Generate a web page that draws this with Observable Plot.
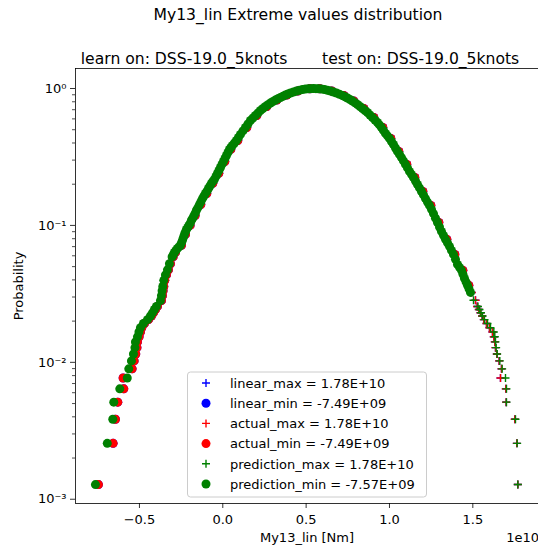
<!DOCTYPE html>
<html><head><meta charset="utf-8">
<script src="https://cdn.jsdelivr.net/npm/d3@7"></script>
<script src="https://cdn.jsdelivr.net/npm/@observablehq/plot@0.6"></script>
<style>
html,body{margin:0;padding:0;background:#fff;overflow:hidden;}
#wrap{position:relative;width:540px;height:548px;overflow:hidden;font-family:"DejaVu Sans",sans-serif;}
#wrap svg{max-width:none;}
#over{position:absolute;left:0;top:0;pointer-events:none;}
</style></head><body><div id="wrap"></div>
<script>
// ---- data (x in units of 1e10 Nm, p = probability) ----
const predictionMin = [
[-0.764,0.00128],[-0.693,0.00256],[-0.660,0.00384],[-0.654,0.00512],[-0.618,0.0064],
[-0.573,0.00768],[-0.564,0.00896],[-0.548,0.01024],[-0.536,0.0115],[-0.527,0.0128],
[-0.524,0.0141],[-0.512,0.01536],[-0.503,0.01664],[-0.494,0.0179],[-0.476,0.0192],
[-0.452,0.0205],[-0.434,0.0218],[-0.422,0.0230],[-0.410,0.0243],[-0.398,0.0256],
[-0.374,0.0282],[-0.368,0.0307],[-0.364,0.0333],[-0.360,0.0358],[-0.354,0.0397],
[-0.344,0.0435],[-0.332,0.0474],[-0.320,0.0525],[-0.304,0.0589],
[-0.290,0.0635],[-0.272,0.0679],[-0.254,0.0715],[-0.242,0.0778],[-0.230,0.0860],
[-0.218,0.0935],[-0.203,0.100],[-0.188,0.109],[-0.173,0.118],[-0.158,0.129],
[-0.140,0.142],[-0.122,0.157],[-0.104,0.171],[-0.086,0.186],[-0.068,0.203],
[-0.050,0.217],[-0.032,0.240],[-0.014,0.265],[0.004,0.293],[0.022,0.324],
[0.040,0.359],[0.058,0.384],[0.082,0.417],[0.106,0.462],[0.136,0.519],
[0.166,0.584],[0.196,0.635],[0.226,0.691],[0.256,0.739],[0.286,0.783],
[0.316,0.824],[0.346,0.860],[0.376,0.897],[0.406,0.927],[0.442,0.959],
[0.478,0.984],[0.514,0.995],[0.544,1.0],[0.574,0.995],[0.610,0.984],
[0.646,0.959],[0.682,0.927],[0.718,0.889],[0.748,0.852],[0.778,0.811],
[0.808,0.764],[0.838,0.715],[0.868,0.668],[0.898,0.614],[0.928,0.565],
[0.952,0.519],[0.976,0.470],[1.000,0.432],[1.024,0.390],[1.048,0.347],
[1.072,0.313],[1.096,0.279],[1.120,0.248],[1.144,0.224],[1.168,0.199],
[1.192,0.177],[1.216,0.157],[1.240,0.140],[1.264,0.122],[1.288,0.105],
[1.312,0.0904],[1.336,0.0791],[1.360,0.0703],[1.384,0.0614],[1.408,0.0519],
[1.432,0.0470],[1.450,0.0410],[1.468,0.0365],[1.486,0.0324]
];
// further readings along the dense central band of prediction_min
const predictionMinBand = [
[-0.297,0.0612],[-0.281,0.0657],[-0.263,0.0697],[-0.248,0.0746],[-0.236,0.0818],
[-0.224,0.0897],[-0.210,0.0967],[-0.195,0.104],[-0.180,0.113],[-0.165,0.123],
[-0.149,0.135],[-0.131,0.149],[-0.113,0.164],[-0.095,0.178],[-0.077,0.194],
[-0.059,0.210],[-0.041,0.228],[-0.023,0.252],[-0.005,0.279],[0.013,0.308],
[0.031,0.341],[0.049,0.371],[0.070,0.400],[0.094,0.439],[0.121,0.490],
[0.151,0.551],[0.181,0.609],[0.211,0.662],[0.241,0.715],[0.271,0.761],
[0.301,0.803],[0.331,0.842],[0.361,0.878],[0.391,0.912],[0.424,0.943],
[0.460,0.972],[0.496,0.990],[0.529,0.998],[0.559,0.998],[0.592,0.990],
[0.628,0.972],[0.664,0.943],[0.700,0.908],[0.733,0.870],[0.763,0.831],
[0.793,0.787],[0.823,0.739],[0.853,0.691],[0.883,0.640],[0.913,0.589],
[0.940,0.542],[0.964,0.494],[0.988,0.451],[1.012,0.410],[1.036,0.368],
[1.060,0.330],[1.084,0.296],[1.108,0.263],[1.132,0.236],[1.156,0.211],
[1.180,0.188],[1.204,0.167],[1.228,0.148],[1.252,0.131],[1.276,0.113],
[1.300,0.0974],[1.324,0.0846],[1.348,0.0746],[1.372,0.0657],[1.396,0.0565],
[1.420,0.0494],[1.441,0.0439],[1.459,0.0387],[1.477,0.0344]
];
const predictionMax = [
[0.478,0.984],[0.514,0.995],[0.544,1.0],[0.574,0.995],[0.610,0.984],
[0.646,0.959],[0.682,0.927],[0.718,0.889],[0.748,0.852],[0.778,0.811],
[0.808,0.764],[0.838,0.715],[0.868,0.668],[0.898,0.614],[0.928,0.565],
[0.952,0.519],[0.976,0.470],[1.000,0.432],[1.024,0.390],[1.048,0.347],
[1.072,0.313],[1.096,0.279],[1.120,0.248],[1.144,0.224],[1.168,0.199],
[1.192,0.177],[1.216,0.157],[1.240,0.140],[1.264,0.122],[1.288,0.105],
[1.312,0.0904],[1.336,0.0791],[1.360,0.0703],[1.384,0.0614],[1.408,0.0519],
[1.432,0.0470],[1.450,0.0410],[1.468,0.0365],[1.486,0.0324],[1.504,0.0284],
[1.531,0.0256],[1.540,0.0243],[1.549,0.0230],[1.558,0.0218],[1.570,0.0205],
[1.588,0.0192],[1.606,0.0179],[1.626,0.01664],[1.632,0.01536],[1.636,0.0141],
[1.640,0.0128],[1.646,0.0115],[1.662,0.01024],[1.676,0.00896],[1.696,0.00768],
[1.702,0.0064],[1.702,0.00512],[1.756,0.00384],[1.766,0.00256],[1.770,0.00128]
];
const actualMin = [
[-0.746,0.00128],[-0.658,0.00256],[-0.644,0.00384],[-0.630,0.00512],[-0.594,0.0064],
[-0.598,0.00768],[-0.544,0.00896],[-0.532,0.01024],[-0.522,0.0115],[-0.515,0.0128],
[-0.512,0.0141],[-0.502,0.01536],[-0.494,0.01664],[-0.486,0.0179],[-0.470,0.0192],
[-0.446,0.0205],[-0.428,0.0218],[-0.416,0.0230],[-0.404,0.0243],[-0.392,0.0256],
[-0.368,0.0282],[-0.362,0.0307],[-0.358,0.0333],[-0.354,0.0358],[-0.348,0.0397],
[-0.338,0.0435],[-0.326,0.0474],[-0.314,0.0525],[-0.298,0.0589],
[-0.284,0.0635],[-0.248,0.0715],[-0.224,0.0860],[-0.196,0.100],[-0.166,0.118],
[-0.132,0.142],[-0.096,0.171],[-0.060,0.203],[-0.024,0.240],[0.012,0.293],
[0.048,0.359],[0.090,0.417],[0.144,0.519],[0.204,0.635],[0.264,0.739],
[0.324,0.824],[0.384,0.897],[0.450,0.959],[0.522,0.995],[0.582,0.995],
[0.654,0.959],[0.726,0.889],[0.786,0.811],[0.846,0.715],[0.906,0.614],
[0.960,0.519],[1.008,0.432],[1.056,0.347],[1.104,0.279],[1.152,0.224],
[1.200,0.177],[1.248,0.140],[1.296,0.105],[1.344,0.0791],[1.392,0.0614],
[1.440,0.0470],[1.476,0.0365]
];
const actualMax = [
[0.522,0.995],[0.582,0.995],[0.654,0.959],[0.726,0.889],[0.786,0.811],
[0.846,0.715],[0.906,0.614],[0.960,0.519],[1.008,0.432],[1.056,0.347],
[1.104,0.279],[1.152,0.224],[1.200,0.177],[1.248,0.140],[1.296,0.105],
[1.344,0.0791],[1.392,0.0614],[1.440,0.0470],[1.476,0.0365],[1.494,0.0324],
[1.516,0.0284],[1.526,0.0256],[1.536,0.0243],[1.546,0.0230],[1.556,0.0218],
[1.566,0.0205],[1.582,0.0192],[1.600,0.0179],[1.618,0.01664],[1.626,0.01536],
[1.632,0.0141],[1.636,0.0128],[1.644,0.0115],[1.658,0.01024],[1.672,0.00896],
[1.666,0.00768],[1.698,0.0064],[1.700,0.00512],[1.752,0.00384],[1.764,0.00256],
[1.770,0.00128]
];
// linear model values coincide with the actual values
const linearMin = actualMin;
const linearMax = actualMax;

const seriesLabels = [
  "linear_max = 1.78E+10", "linear_min = -7.49E+09",
  "actual_max = 1.78E+10", "actual_min = -7.49E+09",
  "prediction_max = 1.78E+10", "prediction_min = -7.57E+09"
];
const seriesColors = ["blue","blue","red","red","green","green"];
const seriesSymbols = ["plus","circle","plus","circle","plus","circle"];

const xTicks = [-0.5, 0.0, 0.5, 1.0, 1.5];
const xTickLabels = ["−0.5","0.0","0.5","1.0","1.5"];
const yTicks = [0.001, 0.01, 0.1, 1];
const yTickLabels = ["10⁻³","10⁻²","10⁻¹","10⁰"];
const yMinorTicks = [0.002,0.003,0.004,0.005,0.006,0.007,0.008,0.009,
  0.02,0.03,0.04,0.05,0.06,0.07,0.08,0.09,
  0.2,0.3,0.4,0.5,0.6,0.7,0.8,0.9];

const titleText = "My13_lin Extreme values distribution";
const subtitleText = "learn on: DSS-19.0_5knots       test on: DSS-19.0_5knots";
const xLabel = "My13_lin [Nm]";
const yLabel = "Probability";
const offsetText = "1e10";

// ---- chart ----
const X = d => d[0], Y = d => d[1];
const PLUS_R = 2.7, CIRC_R = 4.5;
const plusDots = (data, color) => Plot.dot(data, {x: X, y: Y, symbol: "plus", r: PLUS_R, stroke: color, strokeWidth: 1.4});
const circDots = (data, color) => Plot.dot(data, {x: X, y: Y, symbol: "circle", r: CIRC_R, fill: color, stroke: "none"});

const chart = Plot.plot({
  width: 540, height: 548,
  marginLeft: 75, marginRight: 0, marginTop: 68, marginBottom: 45,
  style: {fontFamily: "DejaVu Sans, sans-serif", fontSize: "13px", background: "white", color: "black"},
  x: {domain: [-0.8836, 1.906]},
  y: {type: "log", domain: [0.000931, 1.40]},
  marks: [
    plusDots(linearMax, "blue"),
    circDots(linearMin, "blue"),
    plusDots(actualMax, "red"),
    circDots(actualMin, "red"),
    plusDots(predictionMax, "green"),
    circDots(predictionMin, "green"),
    circDots(predictionMinBand, "green"),
    Plot.axisX({ticks: xTicks, tickSize: 5, tickPadding: 6, strokeWidth: 0.8,
      tickFormat: (d) => xTickLabels[xTicks.indexOf(d)], label: null, fontSize: 13}),
    Plot.axisY({ticks: yTicks, tickSize: 5, tickPadding: 4, strokeWidth: 0.8,
      tickFormat: (d) => yTickLabels[yTicks.indexOf(d)], label: null, fontSize: 13}),
    Plot.axisY({ticks: yMinorTicks, tickSize: 3, strokeWidth: 0.7, tickFormat: () => "", label: null}),
    Plot.frame({stroke: "black", strokeWidth: 0.8})
  ]
});
chart.style.maxWidth = "none";
const wrap = document.getElementById("wrap");
wrap.appendChild(chart);

// ---- titles, axis labels and legend (overlay) ----
const NS = "http://www.w3.org/2000/svg";
const over = document.createElementNS(NS, "svg");
over.setAttribute("id", "over");
over.setAttribute("width", 540); over.setAttribute("height", 548);
over.setAttribute("font-family", "DejaVu Sans, sans-serif");
wrap.appendChild(over);
function txt(s, x, y, size, anchor, rot) {
  const t = document.createElementNS(NS, "text");
  t.setAttribute("x", x); t.setAttribute("y", y);
  t.setAttribute("font-size", size); t.setAttribute("text-anchor", anchor);
  t.setAttribute("fill", "black");
  t.setAttribute("style", "white-space:pre");
  if (rot) t.setAttribute("transform", `rotate(${rot} ${x} ${y})`);
  t.textContent = s;
  over.appendChild(t);
  return t;
}
txt(titleText, 298, 20, 15.6, "middle");
txt(subtitleText, 300, 64, 15.6, "middle");
txt(xLabel, 307, 542, 13, "middle");
txt(offsetText, 539, 542, 13, "end");
txt(yLabel, 23, 286, 13, "middle", -90);

// legend
const lg = {x: 187.5, y: 372, w: 239, h: 125, row0: 383, dy: 20.2, mx: 206, tx: 230};
const box = document.createElementNS(NS, "rect");
box.setAttribute("x", lg.x); box.setAttribute("y", lg.y);
box.setAttribute("width", lg.w); box.setAttribute("height", lg.h);
box.setAttribute("rx", 3); box.setAttribute("fill", "white"); box.setAttribute("fill-opacity", 0.8);
box.setAttribute("stroke", "#cccccc"); box.setAttribute("stroke-width", 1);
over.appendChild(box);
seriesLabels.forEach((label, i) => {
  const cy = lg.row0 + i * lg.dy;
  if (seriesSymbols[i] === "circle") {
    const c = document.createElementNS(NS, "circle");
    c.setAttribute("cx", lg.mx); c.setAttribute("cy", cy); c.setAttribute("r", CIRC_R);
    c.setAttribute("fill", seriesColors[i]);
    over.appendChild(c);
  } else {
    const p = document.createElementNS(NS, "path");
    p.setAttribute("d", `M${lg.mx-4},${cy}H${lg.mx+4}M${lg.mx},${cy-4}V${cy+4}`);
    p.setAttribute("stroke", seriesColors[i]); p.setAttribute("stroke-width", 1.4);
    over.appendChild(p);
  }
  txt(label, lg.tx, cy + 4.7, 13, "start");
});
</script></body></html>
